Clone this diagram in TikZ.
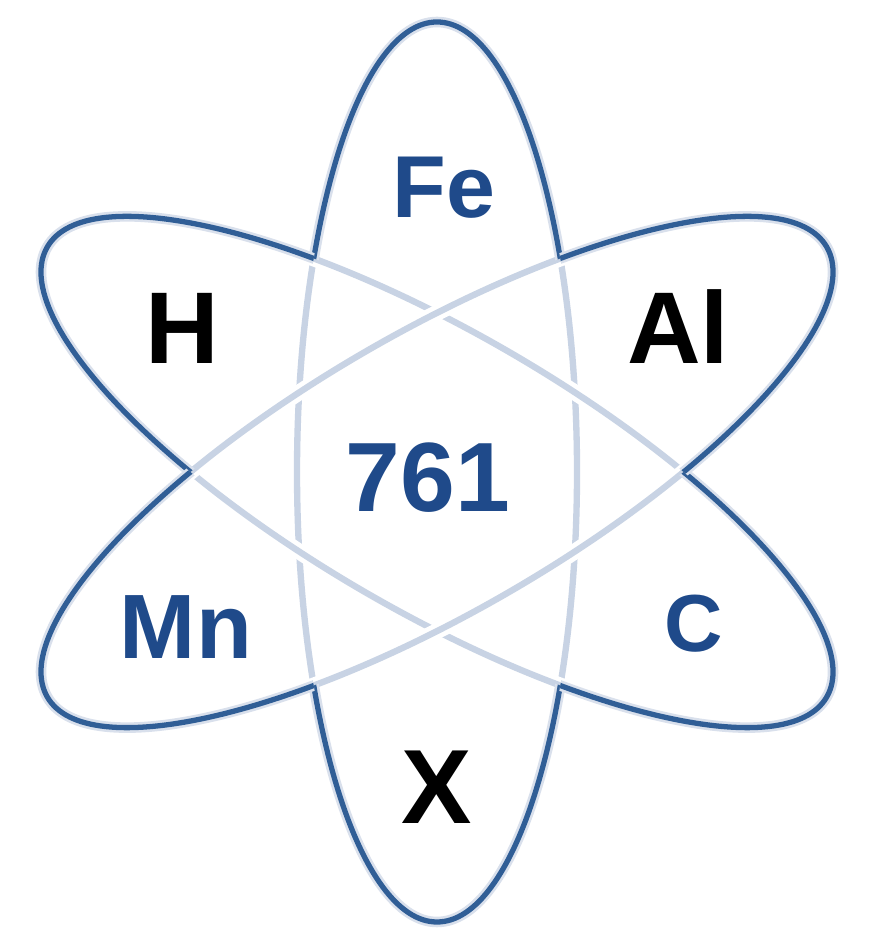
\documentclass[tikz,border=0pt]{standalone}
\usepackage{fontspec}
\setmainfont{Liberation Sans}
\definecolor{orbitblue}{RGB}{48,94,150}
\definecolor{orbitlight}{RGB}{200,211,228}
\definecolor{labelblue}{RGB}{31,74,138}
\tikzset{
  innerline/.style={draw=orbitlight, line width=1.8pt, preaction={draw=white, line width=4.5pt}},
  contour/.style={draw=orbitblue, line width=1.5pt, preaction={draw=orbitlight!70, line width=3pt}},
  elem/.style={inner sep=0pt, font=\bfseries\fontsize{#1}{#1}\selectfont},
}

\begin{document}
\begin{tikzpicture}[x=0.01cm, y=0.01cm]
    \useasboundingbox (0,0) rectangle (873,943);
    \coordinate (nucleus) at (437,471);
    % Soft lines where the orbits overlap
    \foreach \ang in {0,60,-60}
      \draw[innerline, rotate around={\ang:(nucleus)}] (nucleus) ellipse [x radius=140, y radius=450];
    % Outer contour: each orbit outside the other two
    \foreach \ang/\pa/\pb in {0/60/-60, 60/0/-60, -60/0/60}{
      \begin{scope}[even odd rule, rotate around={\pa:(nucleus)}]
        \clip (-2000,-2000) rectangle (3000,3000) (nucleus) ellipse [x radius=140, y radius=450];
        \begin{scope}[rotate around={\pb-\pa:(nucleus)}]
          \clip (-2000,-2000) rectangle (3000,3000) (nucleus) ellipse [x radius=140, y radius=450];
          \begin{scope}[rotate around={\ang-\pb:(nucleus)}]
            \draw[contour] (nucleus) ellipse [x radius=140, y radius=450];
          \end{scope}
        \end{scope}
      \end{scope}
    }
    % Element labels
    \node[elem=25, text=labelblue] (fe) at (444,755) {Fe};
    \node[elem=29, text=black] (h) at (182,615) {H};
    \node[elem=29, text=black] (al) at (678,616) {Al};
    \node[elem=28, text=labelblue] (steel) at (428,465) {761};
    \node[elem=26, text=labelblue] (mn) at (186,316) {Mn};
    \node[elem=23, text=labelblue] (c) at (694,319) {C};
    \node[elem=30, text=black] (x) at (437,156) {X};
\end{tikzpicture}
\end{document}
